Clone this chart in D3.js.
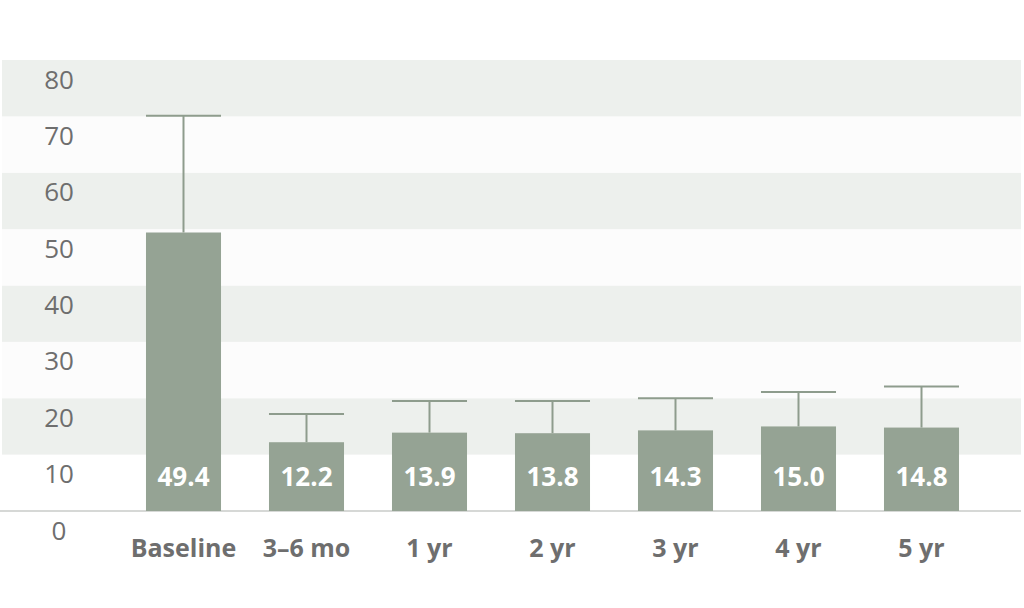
<!DOCTYPE html>
<html><head><meta charset="utf-8">
<script src="https://cdn.jsdelivr.net/npm/d3@7/dist/d3.min.js"></script>
<style>body{margin:0;background:#fff}svg{display:block}</style>
</head><body>
<svg id="c" width="1024" height="608"></svg>
<script>
const categories = ["Baseline", "3–6 mo", "1 yr", "2 yr", "3 yr", "4 yr", "5 yr"];
const values = [49.4, 12.2, 13.9, 13.8, 14.3, 15.0, 14.8];
const errors = [20.7, 5.0, 5.6, 5.7, 5.7, 6.1, 7.3];
const yTicks = [0, 10, 20, 30, 40, 50, 60, 70, 80];

const svg = d3.select("#c");
const y = d3.scaleLinear().domain([0, 80]).range([511, 60]);
const x = d3.scaleBand().domain(categories).range([122, 983]).paddingInner(0.39).paddingOuter(0.195);

// bands
const bandData = yTicks.slice(0, -1);
svg.append("g").selectAll("rect").data(bandData).join("rect")
  .attr("x", 2).attr("width", 1019)
  .attr("y", d => y(d + 10)).attr("height", d => y(d) - y(d + 10))
  .attr("fill", d => (d / 10) % 2 === 1 ? "#edf0ed" : (d === 0 ? "#ffffff" : "#fcfcfc"));

// baseline
svg.append("line").attr("x1", 0).attr("x2", 1021).attr("y1", y(0)).attr("y2", y(0))
  .attr("stroke", "#d6d8d6").attr("stroke-width", 2);

// y tick labels
svg.append("g").selectAll("text").data(yTicks).join("text")
  .attr("x", 59).attr("y", d => y(d) + 28.5)
  .attr("text-anchor", "middle")
  .attr("font-family", "Open Sans, sans-serif").attr("font-size", 26)
  .attr("fill", "#6e6e6e").text(d => d);

const data = categories.map((c, i) => ({c, v: values[i], e: errors[i]}));

// error bars
const eg = svg.append("g").attr("stroke", "#8e9c8d").attr("stroke-width", 2).attr("fill", "none");
eg.selectAll("line.v").data(data).join("line").attr("class", "v")
  .attr("x1", d => x(d.c) + x.bandwidth() / 2).attr("x2", d => x(d.c) + x.bandwidth() / 2)
  .attr("y1", d => y(d.v)).attr("y2", d => y(d.v + d.e));
eg.selectAll("line.h").data(data).join("line").attr("class", "h")
  .attr("x1", d => x(d.c)).attr("x2", d => x(d.c) + x.bandwidth())
  .attr("y1", d => y(d.v + d.e)).attr("y2", d => y(d.v + d.e));

// bars
svg.append("g").selectAll("rect").data(data).join("rect")
  .attr("x", d => x(d.c)).attr("width", x.bandwidth())
  .attr("y", d => y(d.v)).attr("height", d => y(0) - y(d.v))
  .attr("fill", "#95a394");

// value labels
svg.append("g").selectAll("text").data(data).join("text")
  .attr("x", d => x(d.c) + x.bandwidth() / 2).attr("y", 486)
  .attr("text-anchor", "middle")
  .attr("font-family", "Open Sans, sans-serif").attr("font-weight", "bold").attr("font-size", 26)
  .attr("fill", "#ffffff").text(d => d.v.toFixed(1));

// category labels
svg.append("g").selectAll("text").data(categories).join("text")
  .attr("x", d => x(d) + x.bandwidth() / 2).attr("y", 557)
  .attr("text-anchor", "middle")
  .attr("font-family", "Open Sans, sans-serif").attr("font-weight", "bold").attr("font-size", 25)
  .attr("fill", "#6e6e6e").text(d => d);
</script>
</body></html>
